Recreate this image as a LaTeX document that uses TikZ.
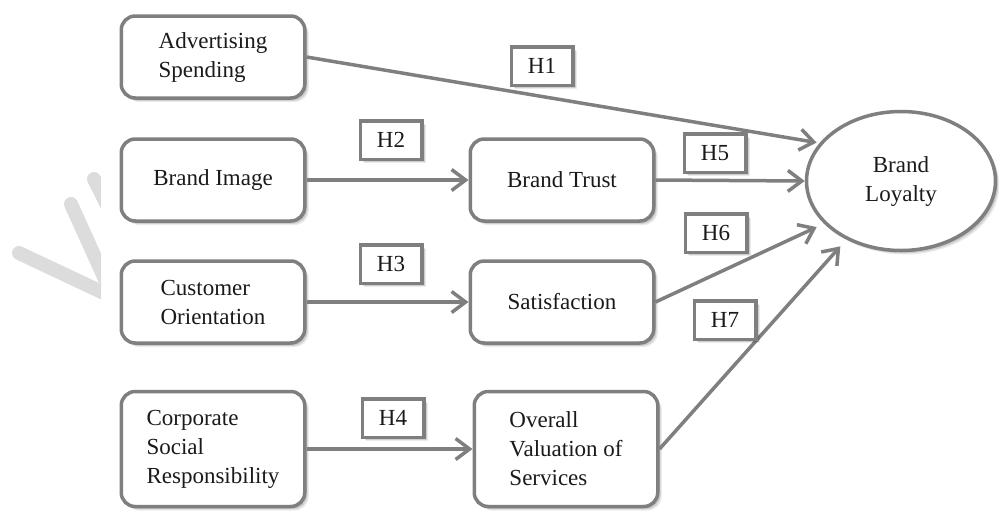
\documentclass[tikz,border=0pt]{standalone}
\usepackage{fontspec}
\setmainfont{Liberation Serif}
\usetikzlibrary{arrows.meta,shapes.geometric,shadows}

\definecolor{edgegray}{HTML}{7F7F7F}
\definecolor{markgray}{HTML}{DCDCDC}
\definecolor{inktext}{HTML}{1A1A1A}

\begin{document}
\begin{tikzpicture}[x=1pt, y=-1pt,
  % layered offsets give a soft-edged shadow
  softshadow/.style={
    drop shadow={shadow xshift=1.5pt, shadow yshift=-1.5pt, opacity=0.14, fill=black},
    drop shadow={shadow xshift=2.8pt, shadow yshift=-2.8pt, opacity=0.12, fill=black},
    drop shadow={shadow xshift=4pt, shadow yshift=-4pt, opacity=0.08, fill=black}},
  box/.style={draw=edgegray, line width=3.5pt, rounded corners=14pt, fill=white, softshadow,
              minimum width=183.5pt, minimum height=82pt, inner sep=0pt,
              align=left, text=inktext, font=\fontsize{23}{29}\selectfont},
  tallbox/.style={box, minimum height=115pt},
  hbox/.style={draw=edgegray, line width=3.5pt, fill=white, softshadow,
               minimum width=61.5pt, minimum height=38.5pt, inner sep=0pt,
               text=inktext, font=\fontsize{23}{27}\selectfont},
  target/.style={ellipse, draw=edgegray, line width=3.5pt, fill=white, softshadow,
                 minimum width=189pt, minimum height=139pt, inner sep=0pt,
                 align=center, text=inktext, font=\fontsize{23}{29}\selectfont},
  conn/.style={draw=edgegray, line width=3.5pt, -{Straight Barb[length=14pt, width=21pt]}}
]
\useasboundingbox (0,0) rectangle (999,515);

% faint diagonal strokes at the left edge
\begin{scope}
  \clip (0,0) rectangle (101,515);
  \draw[markgray, line width=14pt, line cap=round] (94,179) -- (114,219);
  \draw[markgray, line width=14pt, line cap=round] (71,204) -- (113,297);
  \draw[markgray, line width=14pt, line cap=round] (19,253) -- (125,303);
\end{scope}

% source constructs
\node[box]     (adv)  at (213,57)  {Advertising\\Spending};
\node[box]     (img)  at (213,180) {Brand Image};
\node[box]     (cust) at (213,302) {Customer\\Orientation};
\node[tallbox] (csr)  at (213,449) {Corporate\\Social\\Responsibility};

% mediating constructs
\node[box]     (trust) at (562,180) {Brand Trust};
\node[box]     (sat)   at (562,302) {Satisfaction};
\node[tallbox] (ovs)   at (566,449) {Overall\\Valuation of\\Services};

% outcome
\node[target] (loy) at (901,181) {Brand\\Loyalty};

% hypothesised paths
\draw[conn, shorten >=3pt]  (adv.east) -- (loy.155);
\draw[conn] (img) -- (trust);
\draw[conn] (cust) -- (sat);
\draw[conn] (csr) -- (ovs);
\draw[conn] (trust.east) -- (loy.west);
\draw[conn, shorten >=8pt]  (sat.east) -- (loy.209);
\draw[conn, shorten >=9pt]  (ovs.east) -- (loy.227);

% hypothesis labels
\node[hbox] (h1) at (542,66)  {H1};
\node[hbox] (h2) at (391,140) {H2};
\node[hbox] (h3) at (391,264) {H3};
\node[hbox] (h4) at (393,418) {H4};
\node[hbox] (h5) at (715,153) {H5};
\node[hbox] (h6) at (716,233) {H6};
\node[hbox] (h7) at (725,320) {H7};
\end{tikzpicture}
\end{document}
